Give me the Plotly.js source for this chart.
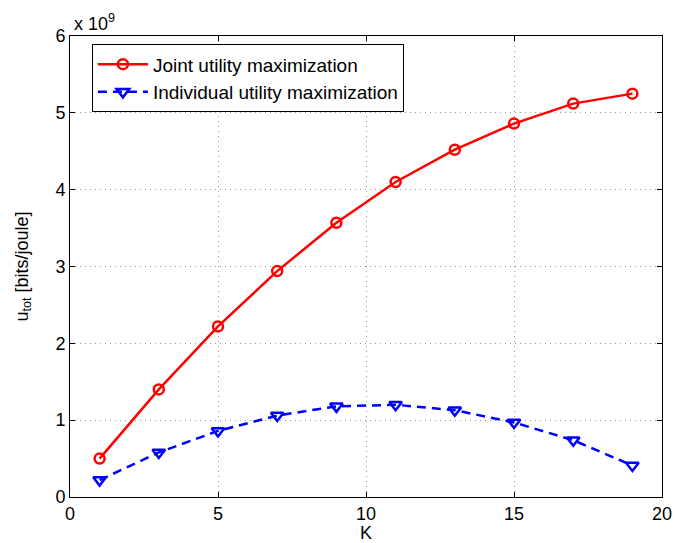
<!DOCTYPE html>
<html>
<head>
<meta charset="utf-8">
<script src="https://cdn.plot.ly/plotly-3.0.1.min.js"></script>
<style>html,body{margin:0;padding:0;background:#fff;}#chart{width:676px;height:543px;}</style>
</head>
<body>
<div id="chart"></div>
<script>
// K values
var K = [1, 3, 5, 7, 9, 11, 13, 15, 17, 19];
// u_tot in units of 10^9 bits/joule
var jointUtility = [0.50, 1.40, 2.22, 2.94, 3.57, 4.10, 4.52, 4.86, 5.12, 5.25];
var individualUtility = [0.22, 0.58, 0.86, 1.06, 1.18, 1.20, 1.13, 0.97, 0.74, 0.41];
var seriesNames = ["Joint utility maximization", "Individual utility maximization"];
var xTicks = [0, 5, 10, 15, 20];
var yTicks = [0, 1, 2, 3, 4, 5, 6];
var yTickLabels = ["0", "1", "2", "3", "4", "5", "6"];

var font = "Liberation Sans, Arial, Helvetica, sans-serif";

var traces = [
  {
    x: K, y: jointUtility, name: seriesNames[0], type: "scatter", mode: "lines+markers",
    line: {color: "#ff0000", width: 2.5},
    marker: {symbol: "circle-open", size: 10, color: "#ff0000", line: {width: 2.5, color: "#ff0000"}}
  },
  {
    x: K, y: individualUtility, name: seriesNames[1], type: "scatter", mode: "lines+markers",
    line: {color: "#0000ff", width: 2.5, dash: "9px,6px"},
    marker: {symbol: "triangle-down-open", size: 11, color: "#0000ff", line: {width: 2.5, color: "#0000ff"}}
  }
];

var axisCommon = {
  showline: true, linecolor: "#000", linewidth: 1, mirror: "allticks",
  ticks: "inside", ticklen: 5, tickcolor: "#000", tickwidth: 1,
  showgrid: true, gridcolor: "#999999", griddash: "1px,4px", gridwidth: 1,
  zeroline: false, tickfont: {family: font, size: 18, color: "#000"}
};

var layout = {
  width: 676, height: 543,
  margin: {l: 70, r: 14, t: 36, b: 46},
  paper_bgcolor: "#fff", plot_bgcolor: "#fff",
  font: {family: font, color: "#000"},
  xaxis: Object.assign({}, axisCommon, {
    range: [0, 20], tickvals: xTicks, ticktext: xTicks.map(String),
    title: {text: "K", font: {family: font, size: 18}, standoff: 2}
  }),
  yaxis: Object.assign({}, axisCommon, {
    range: [0, 6], tickvals: yTicks, ticktext: yTickLabels,
    title: {text: "u<sub>tot</sub> [bits/joule]", font: {family: font, size: 18}, standoff: 22}
  }),
  showlegend: true,
  legend: {
    x: 0.037, y: 0.982, xanchor: "left", yanchor: "top",
    bgcolor: "#fff", bordercolor: "#000", borderwidth: 1,
    font: {family: font, size: 19, color: "#000"},
    itemwidth: 50, tracegroupgap: 0
  },
  annotations: [{
    xref: "paper", yref: "paper", x: 0, y: 1, xanchor: "left", yanchor: "bottom",
    xshift: 2, yshift: 0,
    text: "x 10<sup>9</sup>", showarrow: false,
    font: {family: font, size: 18, color: "#000"}
  }]
};

Plotly.newPlot("chart", traces, layout, {displayModeBar: false, staticPlot: true});
</script>
</body>
</html>
